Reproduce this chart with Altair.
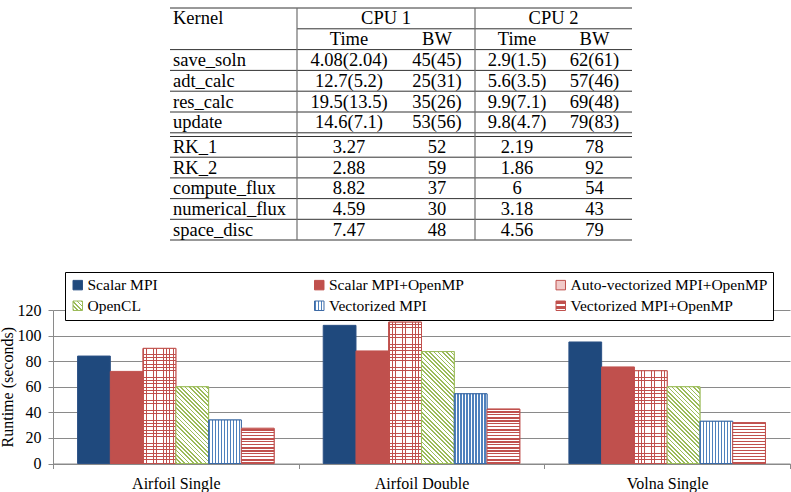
import json
import math

import altair as alt
import pandas as pd

# ---------------------------------------------------------------- data
# Runtime (seconds) per application and implementation
categories = ["Airfoil Single", "Airfoil Double", "Volna Single"]
series = ["Scalar MPI", "Scalar MPI+OpenMP", "Auto-vectorized MPI+OpenMP",
          "OpenCL", "Vectorized MPI", "Vectorized MPI+OpenMP"]
scalar_mpi = [84, 108, 95]
scalar_mpi_openmp = [72, 88, 75.5]
autovec_mpi_openmp = [90, 110.5, 72.5]
opencl = [60, 87.5, 60]
vectorized_mpi = [34, 54.5, 33]
vectorized_mpi_openmp = [27.5, 42.5, 32]

# Per-kernel time and achieved bandwidth on the two CPUs
kernels = ["save_soln", "adt_calc", "res_calc", "update",
           "RK_1", "RK_2", "compute_flux", "numerical_flux", "space_disc"]
cpu1_time = ["4.08(2.04)", "12.7(5.2)", "19.5(13.5)", "14.6(7.1)",
             "3.27", "2.88", "8.82", "4.59", "7.47"]
cpu1_bw = ["45(45)", "25(31)", "35(26)", "53(56)", "52", "59", "37", "30", "48"]
cpu2_time = ["2.9(1.5)", "5.6(3.5)", "9.9(7.1)", "9.8(4.7)",
             "2.19", "1.86", "6", "3.18", "4.56"]
cpu2_bw = ["62(61)", "57(46)", "69(48)", "79(83)", "78", "92", "54", "43", "79"]
first_block = 4  # kernels above the double rule

series_values = [scalar_mpi, scalar_mpi_openmp, autovec_mpi_openmp,
                 opencl, vectorized_mpi, vectorized_mpi_openmp]

# ---------------------------------------------------------------- layout
SERIF = "Liberation Serif"
GRAY = "#8a8a8a"
PLOT_LEFT, PLOT_TOP = 53, 310
W, H = 737, 153.5
Y_MAX = 120
PX = H / Y_MAX
GROUP_PAD = 0.75
BAR_W = W / len(categories) / (len(series) + 2 * GROUP_PAD)

NAVY, RED, GREEN, BLUE = "#1f497d", "#c0504d", "#9bbb59", "#4f81bd"

# table anchors: left edge, kernel text, rule, Time, CPU 1, BW, rule,
# Time, CPU 2, BW, right edge
col_anchor_px = [170, 173, 297, 349, 386, 437, 475, 517, 553.5, 594.5, 632]
# row units: 0..6 header + first block, 6..7 double rule gap, 7..12 second block
row_anchor_units = [0, 6, 7, 12]
row_anchor_px = [8, 132.8, 136.5, 240]


# ---------------------------------------------------------------- fill patterns
def banded(span, period, ink_w, ink, paper):
    stops = []
    k = 0
    while k * period < span - 1e-9:
        a = k * period / span
        b = min((k * period + ink_w) / span, 1.0)
        c = min((k + 1) * period / span, 1.0)
        stops += [{"offset": round(a, 5), "color": ink},
                  {"offset": round(b, 5), "color": ink},
                  {"offset": round(b, 5), "color": paper},
                  {"offset": round(c, 5), "color": paper}]
        k += 1
    return stops


def across(stops):
    return {"gradient": "linear", "x1": 0, "y1": 0, "x2": 1, "y2": 0, "stops": stops}


def upward(stops):
    return {"gradient": "linear", "x1": 0.5, "y1": 1, "x2": 0.5, "y2": 0, "stops": stops}


def hatch(w, h, period, ink_w, ink, paper):
    # 45 degree "\" hatching inside a w x h box (bounding-box units)
    t = (w + h) / (w * w + h * h)
    span = (w + h) / math.sqrt(2)
    return {"gradient": "linear", "x1": 0, "y1": 1,
            "x2": round(t * w, 6), "y2": round(1 - t * h, 6),
            "stops": banded(span, period, ink_w, ink, paper)}


def per_bar(name, make):
    vals = series_values[series.index(name)]
    conds = [{"test": f"datum.category === '{c}'", "value": make(v * PX)}
             for c, v in zip(categories, vals)]
    return alt.value("white", condition=conds)


# legend swatches
SYM = 90
sym_side = math.sqrt(SYM)
legend_fill = [
    NAVY,
    RED,
    "#f1c9c8",
    {"expr": json.dumps(hatch(sym_side, sym_side, 3.0, 1.2, GREEN, "white"))},
    {"expr": json.dumps(across(banded(sym_side, 3.1, 1.3, BLUE, "white")))},
    {"expr": json.dumps(upward(banded(sym_side, sym_side / 2, 1.3, "white", RED)))},
]
legend_stroke = ["#2b5185", RED, RED, GREEN, "#3d6aa5", RED]

# ---------------------------------------------------------------- tables
bars_df = pd.DataFrame(
    [{"category": c, "series": s, "runtime": v}
     for s, vals in zip(series, series_values)
     for c, v in zip(categories, vals)]
)


def row_unit(i):
    return 2.5 + i if i < first_block else 7.5 + (i - first_block)


left_cells = [{"t": "Kernel", "cx": 1, "cy": 0.5}] + [
    {"t": k, "cx": 1, "cy": row_unit(i)} for i, k in enumerate(kernels)]
center_cells = [
    {"t": "CPU 1", "cx": 4, "cy": 0.5}, {"t": "CPU 2", "cx": 8, "cy": 0.5},
    {"t": "Time", "cx": 3, "cy": 1.5}, {"t": "BW", "cx": 5, "cy": 1.5},
    {"t": "Time", "cx": 7, "cy": 1.5}, {"t": "BW", "cx": 9, "cy": 1.5},
]
for i in range(len(kernels)):
    for cx, col in zip([3, 5, 7, 9], [cpu1_time, cpu1_bw, cpu2_time, cpu2_bw]):
        center_cells.append({"t": col[i], "cx": cx, "cy": row_unit(i)})

hrules = pd.DataFrame(
    [{"a": 0, "b": 10, "r": r} for r in [0, 2, 3, 4, 5, 6, 7, 8, 9, 10, 11, 12]]
    + [{"a": 2, "b": 10, "r": 1}]
)
vrules = pd.DataFrame([{"a": 2, "r": 0, "r2": 12}, {"a": 6, "r": 0, "r2": 12}])

tx = alt.Scale(domain=list(range(len(col_anchor_px))),
               range=[p - PLOT_LEFT for p in col_anchor_px], zero=False, nice=False)
ty = alt.Scale(domain=row_anchor_units,
               range=[p - PLOT_TOP for p in row_anchor_px], zero=False, nice=False)

table = alt.layer(
    alt.Chart(hrules).mark_rule(color="#333333", strokeWidth=1).encode(
        x=alt.X("a:Q", scale=tx, axis=None), x2="b:Q",
        y=alt.Y("r:Q", scale=ty, axis=None)),
    alt.Chart(vrules).mark_rule(color="#6f6f6f", strokeWidth=1.2).encode(
        x=alt.X("a:Q", scale=tx, axis=None),
        y=alt.Y("r:Q", scale=ty, axis=None), y2="r2:Q"),
    alt.Chart(pd.DataFrame(left_cells)).mark_text(
        font=SERIF, fontSize=18.5, align="left", baseline="middle", color="black"
    ).encode(x=alt.X("cx:Q", scale=tx, axis=None),
             y=alt.Y("cy:Q", scale=ty, axis=None), text="t:N"),
    alt.Chart(pd.DataFrame(center_cells)).mark_text(
        font=SERIF, fontSize=18.5, align="center", baseline="middle", color="black"
    ).encode(x=alt.X("cx:Q", scale=tx, axis=None),
             y=alt.Y("cy:Q", scale=ty, axis=None), text="t:N"),
)

# ---------------------------------------------------------------- bars
x_enc = alt.X(
    "category:N",
    scale=alt.Scale(domain=categories, paddingInner=0, paddingOuter=0),
    axis=alt.Axis(orient="bottom", title=None, labelFont=SERIF, labelFontSize=16,
                  labelColor="black", labelAngle=0, labelPadding=7, tickBand="extent",
                  tickSize=5, tickColor=GRAY, domainColor=GRAY, grid=False),
)
xo_enc = alt.XOffset(
    "series:N",
    scale=alt.Scale(domain=series, paddingInner=0, paddingOuter=GROUP_PAD),
)
y_enc = alt.Y(
    "runtime:Q",
    scale=alt.Scale(domain=[0, Y_MAX], nice=False),
    axis=alt.Axis(orient="left", values=list(range(0, Y_MAX + 1, 20)), grid=True,
                  gridColor=GRAY, domainColor=GRAY, tickColor=GRAY, tickSize=5,
                  labelFont=SERIF, labelFontSize=16, labelColor="black", labelPadding=7,
                  title="Runtime (seconds)", titleFont=SERIF, titleFontSize=16,
                  titleFontWeight="normal", titleColor="black", titlePadding=2),
)

legend = alt.Legend(
    title=None, orient="none", legendX=12, legendY=-38, direction="horizontal",
    columns=3, gridAlign="all", columnPadding=26.5, rowPadding=4,
    symbolType="square", symbolSize=SYM, symbolStrokeWidth=1, symbolOpacity=1,
    labelFont=SERIF, labelFontSize=15.5, labelColor="black", labelOffset=2,
    labelLimit=400, padding=5, strokeColor="black", fillColor="white",
)

base = alt.Chart(bars_df)
enc = dict(x=x_enc, xOffset=xo_enc, y=y_enc)


def only(name):
    return base.transform_filter(alt.datum.series == name)


solid = base.mark_bar(strokeWidth=1).encode(
    fill=alt.Fill("series:N", scale=alt.Scale(domain=series, range=legend_fill), legend=legend),
    stroke=alt.Stroke("series:N", scale=alt.Scale(domain=series, range=legend_stroke), legend=legend),
    **enc,
)

# grid pattern: vertical red lines, then horizontal red lines on top
autovec_cols = only("Auto-vectorized MPI+OpenMP").mark_bar(
    strokeWidth=0, fill=across(banded(BAR_W, 3.3, 0.8, RED, "white"))
).encode(**enc)
autovec_rows = only("Auto-vectorized MPI+OpenMP").mark_bar(
    stroke=RED, strokeWidth=1
).encode(
    fill=per_bar("Auto-vectorized MPI+OpenMP",
                 lambda h: upward(banded(h, 3.3, 0.8, RED, "transparent"))),
    **enc,
)
opencl_bars = only("OpenCL").mark_bar(stroke=GREEN, strokeWidth=1).encode(
    fill=per_bar("OpenCL", lambda h: hatch(BAR_W, h, 3.0, 1.2, GREEN, "white")),
    **enc,
)
vmpi_bars = only("Vectorized MPI").mark_bar(
    stroke="#3d6aa5", strokeWidth=1, fill=across(banded(BAR_W, 3.0, 1.4, BLUE, "white"))
).encode(**enc)
vomp_bars = only("Vectorized MPI+OpenMP").mark_bar(stroke=RED, strokeWidth=1).encode(
    fill=per_bar("Vectorized MPI+OpenMP",
                 lambda h: upward(banded(h, 3.0, 1.3, RED, "white"))),
    **enc,
)

bars = alt.layer(solid, autovec_cols, autovec_rows, opencl_bars, vmpi_bars, vomp_bars)

chart = (
    alt.layer(table, bars)
    .resolve_scale(x="independent", y="independent")
    .properties(
        width=W, height=H, background="white",
        padding={"left": PLOT_LEFT, "top": PLOT_TOP, "right": 1, "bottom": 492 - PLOT_TOP - H},
        autosize=alt.AutoSizeParams(type="none"),
    )
    .configure_view(stroke=None)
)

chart.save("out.html", embed_options={"renderer": "svg", "actions": False})
